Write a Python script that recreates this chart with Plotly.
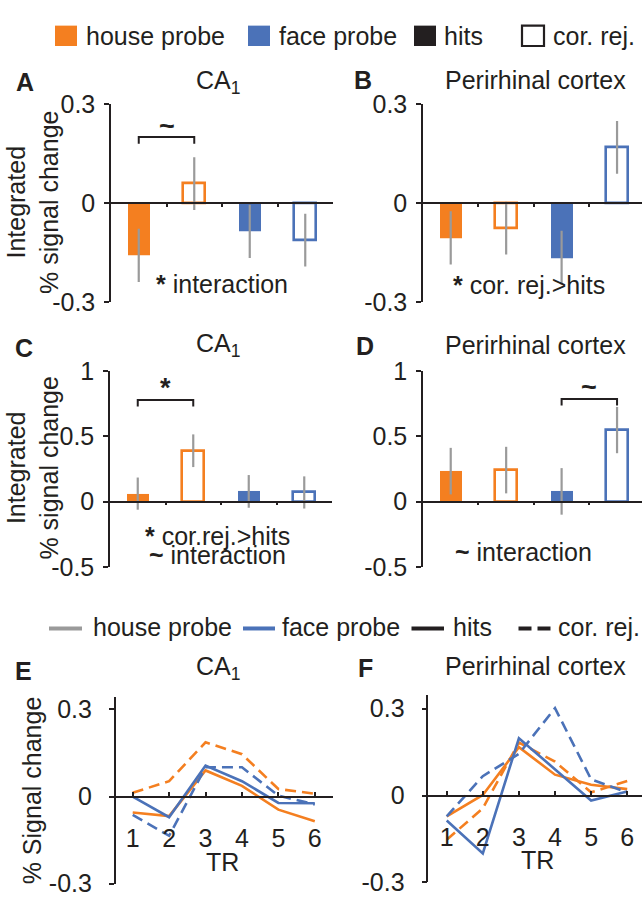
import plotly.graph_objects as go

W, H = 642, 909

# ---------------- data ----------------
categories = ["house hits", "house cor. rej.", "face hits", "face cor. rej."]
cat_probe = ["house", "house", "face", "face"]
cat_resp = ["hits", "cor", "hits", "cor"]

# Integrated % signal change (panels A-D), mean and error
a_vals = [-0.159, 0.059, -0.086, -0.113]
a_err = [0.081, 0.080, 0.081, 0.080]
b_vals = [-0.106, -0.076, -0.166, 0.169]
b_err = [0.081, 0.080, 0.082, 0.080]
c_vals = [0.062, 0.390, 0.079, 0.071]
c_err = [0.123, 0.125, 0.125, 0.123]
d_vals = [0.234, 0.242, 0.079, 0.548]
d_err = [0.178, 0.178, 0.178, 0.177]

# Time courses (panels E-F)
tr = [1, 2, 3, 4, 5, 6]
e_house_hits = [-0.055, -0.067, 0.090, 0.037, -0.045, -0.085]
e_house_cr = [0.013, 0.053, 0.187, 0.146, 0.026, 0.010]
e_face_hits = [0.000, -0.071, 0.107, 0.053, -0.022, -0.023]
e_face_cr = [-0.063, -0.135, 0.101, 0.101, 0.003, -0.027]
f_house_hits = [-0.072, 0.002, 0.167, 0.072, 0.037, 0.022]
f_house_cr = [-0.153, -0.044, 0.183, 0.117, 0.011, 0.050]
f_face_hits = [-0.086, -0.200, 0.198, 0.089, -0.017, 0.014]
f_face_cr = [-0.072, 0.067, 0.144, 0.302, 0.056, 0.011]

legend_labels = ["house probe", "face probe", "hits", "cor. rej."]
bar_yticks = [-0.3, 0, 0.3]
bar_yticks2 = [-0.5, 0, 0.5, 1]
line_yticks = [-0.3, 0, 0.3]

# ---------------- style ----------------
ORANGE = "#F47F20"
BLUE = "#4B72B8"
GRAY = "#9A9A9A"
INK = "#231F20"
FONT = "Liberation Sans, Arial, Helvetica, sans-serif"
FS = 25
probe_color = {"house": ORANGE, "face": BLUE}


def fx(x):
    return x / W


def fy(y):
    return 1 - y / H


def fmt(v):
    return "%g" % v


def txt(x, y, text, xref="paper", yref="paper", xanchor="center", size=FS, angle=0):
    return dict(x=x, y=y, xref=xref, yref=yref, text=text, showarrow=False,
                xanchor=xanchor, yanchor="middle", textangle=angle,
                font=dict(size=size, color=INK, family=FONT))


panels = [
    dict(kind="bar", vals=a_vals, err=a_err, xd=(111, 333), yd=(93, 297),
         xr=[-0.5, 3.5], yr=[-0.3, 0.3], yt=bar_yticks, letter="A", lpos=(25, 70),
         title="CA<sub>1</sub>", tpos=(218, 70),
         sig=dict(pair=(0, 1), top=0.20, drop=0.02, mark="~", my=0.235),
         notes=[("<b>*</b> interaction", 1.5, -0.247)],
         ytitle="Integrated<br>% signal change", ytpos=(33, 195)),
    dict(kind="bar", vals=b_vals, err=b_err, xd=(423, 642), yd=(93, 297),
         xr=[-0.5, 3.45], yr=[-0.3, 0.3], yt=bar_yticks, letter="B", lpos=(363, 68),
         title="Perirhinal cortex", tpos=(535, 68),
         sig=None,
         notes=[("<b>*</b> cor. rej.>hits", 1.42, -0.25)],
         ytitle=None),
    dict(kind="bar", vals=c_vals, err=c_err, xd=(110, 332), yd=(368.3, 570.7),
         xr=[-0.5, 3.5], yr=[-0.5, 1.0], yt=bar_yticks2, letter="C", lpos=(24, 345),
         title="CA<sub>1</sub>", tpos=(218, 342),
         sig=dict(pair=(0, 1), top=0.778, drop=0.05, mark="*", my=0.87),
         notes=[("<b>*</b> cor.rej.>hits", 1.44, -0.262), ("<b>~</b> interaction", 1.44, -0.405)],
         ytitle="Integrated<br>% signal change", ytpos=(33, 469)),
    dict(kind="bar", vals=d_vals, err=d_err, xd=(423, 642), yd=(368.3, 570.7),
         xr=[-0.5, 3.45], yr=[-0.5, 1.0], yt=bar_yticks2, letter="D", lpos=(365, 343),
         title="Perirhinal cortex", tpos=(535, 342),
         sig=dict(pair=(2, 3), top=0.785, drop=0.05, mark="~", my=0.876),
         notes=[("<b>~</b> interaction", 1.32, -0.383)],
         ytitle=None),
    dict(kind="line", series=[e_house_hits, e_house_cr, e_face_hits, e_face_cr],
         xd=(115.7, 333), yd=(705, 897.3), xr=[0.533, 6.5], yr=[-0.3, 0.342],
         yt=line_yticks, letter="E", lpos=(24, 678), title="CA<sub>1</sub>", tpos=(218, 675),
         ytitle="% Signal change", ytpos=(32, 801), trpos=(222, 875)),
    dict(kind="line", series=[f_house_hits, f_house_cr, f_face_hits, f_face_cr],
         xd=(428.3, 642), yd=(702.7, 896), xr=[0.49, 6.41], yr=[-0.3, 0.347],
         yt=line_yticks, letter="F", lpos=(366, 675), title="Perirhinal cortex", tpos=(535, 673),
         ytitle=None, trpos=(537, 873)),
]

line_styles = [("house", "solid"), ("house", "11px,6px"), ("face", "solid"), ("face", "11px,6px")]

fig = go.Figure()
annotations = []
shapes = []
layout = {}

for i, p in enumerate(panels, start=1):
    xs = "" if i == 1 else str(i)
    xref, yref = "x" + xs, "y" + xs
    xdom = [fx(p["xd"][0]), min(1.0, fx(p["xd"][1]))]
    ydom = [fy(p["yd"][1]), fy(p["yd"][0])]
    r0, r1 = p["yr"]
    zero_pos = ydom[0] + (0 - r0) / (r1 - r0) * (ydom[1] - ydom[0])

    if p["kind"] == "bar":
        pos = list(range(len(categories)))
        fills = [probe_color[pr] if rs == "hits" else "white" for pr, rs in zip(cat_probe, cat_resp)]
        lcols = [probe_color[pr] for pr in cat_probe]
        lw = [0 if rs == "hits" else 2.6 for rs in cat_resp]
        fig.add_trace(go.Bar(
            x=pos, y=p["vals"], width=0.4, xaxis=xref, yaxis=yref,
            marker=dict(color=fills, line=dict(color=lcols, width=lw)),
            error_y=dict(type="data", array=p["err"], color=GRAY, thickness=2.2, width=0),
            showlegend=False, hovertext=categories))
        if p["sig"]:
            s = p["sig"]
            a, b = s["pair"]
            fig.add_trace(go.Scatter(
                x=[a, a, b, b], y=[s["top"] - s["drop"], s["top"], s["top"], s["top"] - s["drop"]],
                mode="lines", line=dict(color=INK, width=2), xaxis=xref, yaxis=yref,
                showlegend=False, hoverinfo="skip"))
            annotations.append(txt((a + b) / 2, s["my"], "<b>%s</b>" % s["mark"], xref, yref, size=27))
        for t, nx, ny in p["notes"]:
            annotations.append(txt(nx, ny, t, xref, yref))
        layout["xaxis" + xs] = dict(
            domain=xdom, range=p["xr"], anchor="free", position=zero_pos,
            showline=True, linecolor=INK, linewidth=1.5, ticks="outside",
            tickvals=[0.5, 1.5, 2.5], ticklen=3, tickwidth=1.5, tickcolor=INK,
            showticklabels=False, showgrid=False, zeroline=False, fixedrange=True)
        stand = 4
    else:
        for ser, (pr, dash) in zip(p["series"], line_styles):
            fig.add_trace(go.Scatter(
                x=tr, y=ser, mode="lines", xaxis=xref, yaxis=yref,
                line=dict(color=probe_color[pr], width=2.6, dash=dash),
                showlegend=False))
        layout["xaxis" + xs] = dict(
            domain=xdom, range=p["xr"], anchor="free", position=zero_pos,
            showline=True, linecolor=INK, linewidth=1.5, ticks="inside",
            tickvals=tr, ticktext=[str(t) for t in tr], ticklen=4, tickwidth=1.5, tickcolor=INK,
            ticklabelstandoff=20,
            tickfont=dict(size=FS, color=INK, family=FONT),
            showgrid=False, zeroline=False, fixedrange=True)
        annotations.append(txt(fx(p["trpos"][0]), fy(p["trpos"][1]), "TR"))
        stand = 12

    layout["yaxis" + xs] = dict(
        domain=ydom, range=p["yr"], anchor=xref, showline=True, linecolor=INK, linewidth=1.5,
        ticks="outside", ticklen=5, tickwidth=1.5, tickcolor=INK,
        tickvals=p["yt"], ticktext=[fmt(v) for v in p["yt"]], ticklabelstandoff=stand,
        tickfont=dict(size=FS, color=INK, family=FONT),
        showgrid=False, zeroline=False, fixedrange=True)

    annotations.append(txt(fx(p["lpos"][0]), fy(p["lpos"][1]), "<b>%s</b>" % p["letter"]))
    annotations.append(txt(fx(p["tpos"][0]), fy(p["tpos"][1]), p["title"]))
    if p.get("ytitle"):
        annotations.append(txt(fx(p["ytpos"][0]), fy(p["ytpos"][1]), p["ytitle"], angle=-90))

# ---------------- legends (custom keys) ----------------
# top legend: colour swatches
sw_left = [55, 248, 414, 522]
sw_fill = [ORANGE, BLUE, INK, "white"]
sw_line = [ORANGE, BLUE, INK, INK]
sw_lw = [0, 0, 0, 2.2]
txt_left = [84, 276.5, 442, 551]
for x0, fc, lc, w, tx, lab in zip(sw_left, sw_fill, sw_line, sw_lw, txt_left, legend_labels):
    shapes.append(dict(type="rect", xref="paper", yref="paper", x0=fx(x0), x1=fx(x0 + 22),
                       y0=fy(33), y1=fy(12), fillcolor=fc, line=dict(color=lc, width=w)))
    annotations.append(txt(fx(tx), fy(22.5), lab, xanchor="left"))

# middle legend: line keys
ln_x = [(49, 82), (243, 275), (411.5, 444), (518.5, 551)]
ln_col = [GRAY, BLUE, INK, INK]
ln_dash = ["solid", "solid", "solid", "13px,6px"]
ln_txt = [90.5, 280, 450.6, 556]
LY = 634
for (x0, x1), c, d, tx, lab in zip(ln_x, ln_col, ln_dash, ln_txt, legend_labels):
    shapes.append(dict(type="line", xref="paper", yref="paper", x0=fx(x0), x1=fx(x1),
                       y0=fy(LY), y1=fy(LY), line=dict(color=c, width=4, dash=d)))
    annotations.append(txt(fx(tx), fy(LY - 2), lab, xanchor="left"))

fig.update_layout(
    width=W, height=H, margin=dict(l=0, r=0, t=0, b=0),
    paper_bgcolor="white", plot_bgcolor="white",
    font=dict(family=FONT, size=FS, color=INK),
    showlegend=False, bargap=0,
    annotations=annotations, shapes=shapes, **layout)

fig.write_html("out.html", config={"displayModeBar": False},
               post_script="document.body.style.margin='0px';document.body.style.overflow='hidden';")
